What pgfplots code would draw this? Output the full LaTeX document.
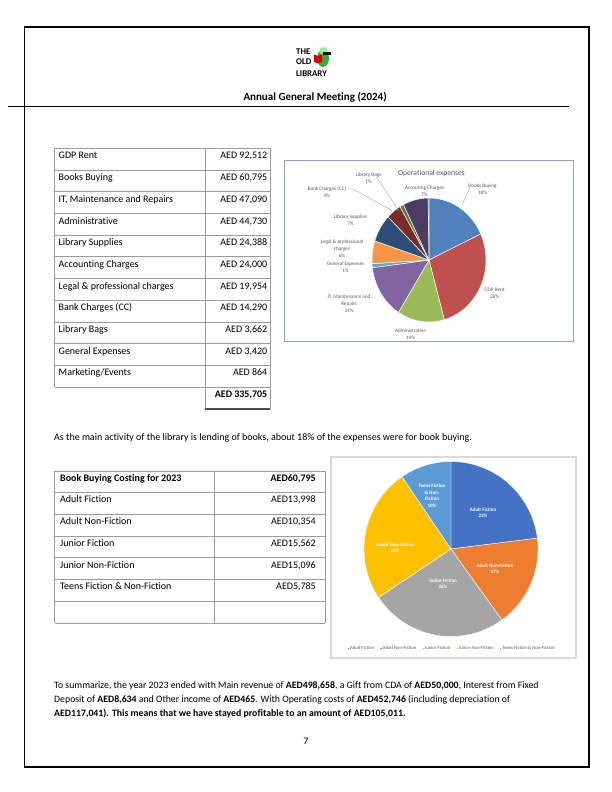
\documentclass[border=0pt]{standalone}
\usepackage{pgfplots}
\pgfplotsset{compat=1.18}
\usepackage{fontspec}
\setmainfont{Carlito}[Ligatures=CommonOff]

\definecolor{pA}{HTML}{4F81BD}
\definecolor{pB}{HTML}{C0504D}
\definecolor{pC}{HTML}{9BBB59}
\definecolor{pD}{HTML}{8064A2}
\definecolor{pE}{HTML}{4BACC6}
\definecolor{pF}{HTML}{F79646}
\definecolor{pG}{HTML}{2C4D75}
\definecolor{pH}{HTML}{772C2A}
\definecolor{pI}{HTML}{5F7530}
\definecolor{pJ}{HTML}{4D3B62}
\definecolor{pK}{HTML}{276A7C}
\definecolor{qA}{HTML}{4472C4}
\definecolor{qB}{HTML}{ED7D31}
\definecolor{qC}{HTML}{A5A5A5}
\definecolor{qD}{HTML}{FFC000}
\definecolor{qE}{HTML}{5B9BD5}
\definecolor{tline}{RGB}{155,155,155}
\definecolor{lbl}{HTML}{595959}
\definecolor{boxone}{RGB}{140,160,210}
\definecolor{boxtwo}{RGB}{217,217,217}

% slice: #1 cumulative value before, #2 value, #3 total, #4 colour, #5 line width
\newcommand\pieslice[5]{%
  \edef\pa{\fpeval{90-360*(#1)/(#3)}}%
  \edef\pb{\fpeval{90-360*((#1)+(#2))/(#3)}}%
  \edef\pietmp{\noexpand\addplot[draw=white, line width=#5, fill=#4, domain=\pb:\pa, samples=60, variable=\noexpand\t] ({cos(\noexpand\t)},{sin(\noexpand\t)}) -- (axis cs:0,0) -- cycle;}%
  \pietmp}

\newcommand\tf{\fontsize{10}{12}\selectfont}
\newcommand\smf{\fontsize{9.8}{12}\selectfont}
\newcommand\rowone[3]{%
  \node[anchor=base west] at (58.5,{148.3+21.7*#1+10.6}) {#2};
  \node[anchor=base east] at (267.5,{148.3+21.7*#1+10.6}) {#3};}
\newcommand\rowtwo[3]{%
  \node[anchor=base west] at (60,{471+21.7*#1+10.2}) {#2};
  \node[anchor=base east] at (316,{471+21.7*#1+10.2}) {#3};}

\begin{document}
\begin{tikzpicture}[x=1pt,y=-1pt]
\fill[white] (0,0) rectangle (612,792);
% page frame
\draw[line width=1.1pt] (24.5,27) rectangle (589,767);
\draw[line width=1pt] (8,106.5) -- (569,106.5);

% logo
\fill[green!60!black!80] (323,58.5) ellipse (6 and 8.5);
\fill[green!55] (323.5,51) circle (4);
\fill[white] (322,50.3) circle (1); \fill[white] (325,50.3) circle (1);
\fill[red!85!black] (314,54.5) -- (318,56) -- (322,54.5) -- (322,62) -- (318,63.5) -- (314,62) -- cycle;
\fill[black] (322.5,52) rectangle (331,55);
\node[anchor=base west, inner sep=0pt, font=\fontsize{8.8}{9}\selectfont\bfseries] at (296,54.6) {THE};
\node[anchor=base west, inner sep=0pt, font=\fontsize{8.8}{9}\selectfont\bfseries] at (296,65) {OLD};
\node[anchor=base west, inner sep=0pt, font=\fontsize{8.8}{9}\selectfont\bfseries] at (296,76.2) {LIBRARY};

\node[anchor=base west, inner sep=0pt, font=\fontsize{11}{13}\selectfont\bfseries] at (243.3,100.4) {Annual General Meeting (2024)};

% ---------- table 1
\begin{scope}[every node/.style={inner sep=0pt, font=\tf}]
\foreach \k in {0,...,11} {\draw[tline, line width=0.7pt] (54.5,{148.3+21.7*\k}) -- (270,{148.3+21.7*\k});}
\draw[tline, line width=0.7pt] (54.5,148.3) -- (54.5,387);
\draw[tline, line width=0.7pt] (205,148.3) -- (205,409);
\draw[tline, line width=0.9pt] (270,148.3) -- (270,409);
\draw[black!70, line width=1.8pt] (204.6,409.2) -- (270.4,409.2);
\rowone{0}{GDP Rent}{AED 92,512}
\rowone{1}{Books Buying}{AED 60,795}
\rowone{2}{IT, Maintenance and Repairs}{AED 47,090}
\rowone{3}{Administrative}{AED 44,730}
\rowone{4}{Library Supplies}{AED 24,388}
\rowone{5}{Accounting Charges}{AED 24,000}
\rowone{6}{Legal \& professional charges}{AED 19,954}
\rowone{7}{Bank Charges (CC)}{AED 14,290}
\rowone{8}{Library Bags}{AED 3,662}
\rowone{9}{General Expenses}{AED 3,420}
\rowone{10}{Marketing/Events}{AED 864}
\node[anchor=base east, font=\tf\bfseries] at (267.5,{148.3+21.7*11+10.6}) {AED 335,705};

% ---------- sentence
\node[anchor=base west] at (54,440.5) {As the main activity of the library is lending of books, about 18\% of the expenses were for book buying.};

% ---------- table 2
\foreach \k in {0,...,7} {\draw[tline, line width=0.7pt] (54.5,{471+21.7*\k}) -- (325,{471+21.7*\k});}
\foreach \xx in {54.5,214,325} {\draw[tline, line width=0.7pt] (\xx,471) -- (\xx,622.9);}
\node[anchor=base west, font=\tf\bfseries] at (60,481.2) {Book Buying Costing for 2023};
\node[anchor=base east, font=\tf\bfseries] at (316,481.2) {AED60,795};
\rowtwo{1}{Adult Fiction}{AED13,998}
\rowtwo{2}{Adult Non-Fiction}{AED10,354}
\rowtwo{3}{Junior Fiction}{AED15,562}
\rowtwo{4}{Junior Non-Fiction}{AED15,096}
\rowtwo{5}{Teens Fiction \& Non-Fiction}{AED5,785}

% ---------- summary
\node[anchor=base west, font=\smf] at (54,688.5) {To summarize, the year 2023 ended with Main revenue of \textbf{AED498,658}, a Gift from CDA of \textbf{AED50,000}, Interest from Fixed};
\node[anchor=base west, font=\smf] at (54,702.5) {Deposit of \textbf{AED8,634} and Other income of \textbf{AED465}. With Operating costs of \textbf{AED452,746} (including depreciation of};
\node[anchor=base west, font=\smf] at (54,716.5) {\textbf{AED117,041). This means that we have stayed profitable to an amount of AED105,011.}};
\node[anchor=base] at (306,744) {7};
\end{scope}

% ---------- chart 1
\draw[boxone, line width=0.8pt] (284.5,160.5) rectangle (573.5,341.5);
\begin{axis}[at={(429pt,-260pt)}, anchor=center, width=114pt, height=124pt, scale only axis,
  hide axis, xmin=-1, xmax=1, ymin=-1, ymax=1, clip=false]
\pieslice{0}{60795}{335705}{pA}{0.5pt}
\pieslice{60795}{92512}{335705}{pB}{0.5pt}
\pieslice{153307}{44730}{335705}{pC}{0.5pt}
\pieslice{198037}{47090}{335705}{pD}{0.5pt}
\pieslice{245127}{3420}{335705}{pE}{0.5pt}
\pieslice{248547}{19954}{335705}{pF}{0.5pt}
\pieslice{268501}{24388}{335705}{pG}{0.5pt}
\pieslice{292889}{14290}{335705}{pH}{0.5pt}
\pieslice{307179}{3662}{335705}{pI}{0.5pt}
\pieslice{310841}{24000}{335705}{pJ}{0.5pt}
\pieslice{334841}{864}{335705}{pK}{0.3pt}
\end{axis}
\begin{scope}[every node/.style={inner sep=0pt, align=center, text=lbl, font=\fontsize{5.2}{7}\selectfont}]
\node[font=\fontsize{7.6}{9}\selectfont] at (431.5,173.5) {Operational expenses};
\draw[black!35, line width=0.4pt] (470,187.5) -- (462,205);
\draw[black!35, line width=0.4pt] (376.5,177) -- (399,211);
\draw[black!35, line width=0.4pt] (347.5,188.5) -- (352,188.5) -- (392,210.5);
\node at (368.5,178.5) {Library Bags\\1\%};
\node at (424.5,191.5) {Accouting Charges\\7\%};
\node at (482.5,189.3) {Books Buying\\18\%};
\node at (327,192) {Bank Charges (CC)\\4\%};
\node at (350.5,220) {Library Supplies\\7\%};
\node at (342,249.2) {Legal \& professional\\charges\\6\%};
\node at (345.5,267.2) {General Expenses\\1\%};
\node at (349,303.7) {IT, Maintenance and\\Repairs\\14\%};
\node at (410.5,333.8) {Administrative\\14\%};
\node at (494.5,293.3) {GDP Rent\\28\%};
\end{scope}

% ---------- chart 2
\draw[boxtwo, line width=1.2pt, fill=white] (331,457) rectangle (576,658);
\begin{axis}[at={(451pt,-549pt)}, anchor=center, width=174pt, height=175pt, scale only axis,
  hide axis, xmin=-1, xmax=1, ymin=-1, ymax=1, clip=false,
  legend columns=5,
  legend image code/.code={\fill[#1] (0pt,-1.2pt) rectangle (2.4pt,1.2pt);},
  legend style={at={(0.5,-0.068)}, anchor=center, draw=none, fill=none, inner sep=0pt,
    font=\fontsize{4.7}{5}\selectfont\color{lbl},
    /tikz/every even column/.append style={column sep=4.5pt},
    nodes={inner sep=0.6pt}}]
\pieslice{0}{13998}{60795}{qA}{0.4pt}
\addlegendentry{Adult Fiction}
\pieslice{13998}{10354}{60795}{qB}{0.4pt}
\addlegendentry{Adult Non-Fiction}
\pieslice{24352}{15562}{60795}{qC}{0.4pt}
\addlegendentry{Junior Fiction}
\pieslice{39914}{15096}{60795}{qD}{0.4pt}
\addlegendentry{Junior Non-Fiction}
\pieslice{55010}{5785}{60795}{qE}{0.4pt}
\addlegendentry{Teens Fiction \& Non-Fiction}
\end{axis}
\begin{scope}[every node/.style={inner sep=0pt, align=center, text=white, font=\fontsize{5}{6.4}\selectfont\bfseries}]
\node at (483,513) {Adult Fiction\\23\%};
\node at (495,569) {Adult Non-Fiction\\17\%};
\node at (443,584) {Junior Fiction\\26\%};
\node at (395,547.5) {Junior Non-Fiction\\25\%};
\node at (432,495.8) {Teens Fiction\\\& Non-\\Fiction\\10\%};
\end{scope}
\end{tikzpicture}
\end{document}
